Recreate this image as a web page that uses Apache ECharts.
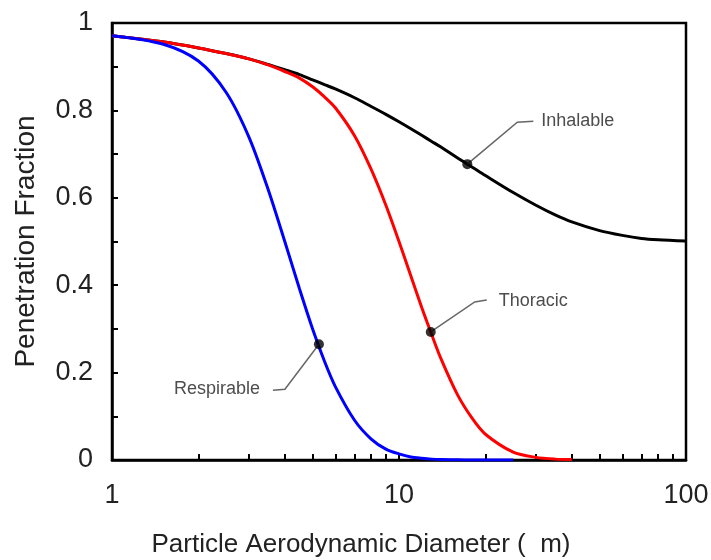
<!DOCTYPE html>
<html>
<head>
<meta charset="utf-8">
<script src="https://cdn.jsdelivr.net/npm/echarts@6/dist/echarts.min.js"></script>
<style>
  html, body { margin: 0; padding: 0; background: #fff; }
  #main { width: 711px; height: 560px; }
</style>
</head>
<body>
<div id="main"></div>
<script>
// particle aerodynamic diameter (um)
var diameters = [1, 1.5, 2, 2.5, 3, 3.5, 4, 4.5, 5, 5.5, 6, 7, 8, 9, 10, 11, 12, 13, 14, 16, 18, 20, 25, 30, 35, 40, 50, 60, 70, 80, 100];
// penetration fraction for each curve (thoracic stops at 40, respirable at 25)
var inhalable = [0.971, 0.957, 0.943, 0.930, 0.918, 0.905, 0.893, 0.882, 0.870, 0.859, 0.849, 0.829, 0.809, 0.791, 0.774, 0.758, 0.743, 0.729, 0.716, 0.691, 0.670, 0.651, 0.612, 0.583, 0.561, 0.545, 0.525, 0.514, 0.507, 0.504, 0.501];
var thoracic = [0.971, 0.957, 0.943, 0.930, 0.918, 0.904, 0.889, 0.874, 0.854, 0.831, 0.806, 0.742, 0.665, 0.583, 0.500, 0.421, 0.349, 0.287, 0.232, 0.149, 0.095, 0.059, 0.018, 0.006, 0.002, 0.001];
var respirable = [0.971, 0.952, 0.913, 0.841, 0.739, 0.619, 0.500, 0.392, 0.300, 0.226, 0.168, 0.091, 0.048, 0.025, 0.014, 0.007, 0.004, 0.002, 0.001, 0.0004, 0.0001, 0, 0];

// labelled points on each curve
var markerNames = ['Inhalable', 'Thoracic', 'Respirable'];
var markerX = [17.3, 12.9, 5.26];
var markerY = [0.677, 0.293, 0.265];

var xMinorTicks = [2, 3, 4, 5, 6, 7, 8, 9, 10, 20, 30, 40, 50, 60, 70, 80, 90];

function pairs(ys) {
  return ys.map(function (y, i) { return [diameters[i], y]; });
}

var myChart = echarts.init(document.getElementById('main'), null, { renderer: 'canvas' });

var option = {
  animation: false,
  backgroundColor: '#fff',
  grid: {
    left: 112, right: 25, top: 23, bottom: 100,
    show: true, borderColor: '#000', borderWidth: 2.5,
    outerBoundsMode: 'none'
  },
  xAxis: {
    type: 'log', logBase: 10, min: 1, max: 100,
    name: 'Particle Aerodynamic Diameter (  m)',
    nameLocation: 'middle', nameGap: 72,
    nameTextStyle: { fontSize: 26, color: '#222', fontFamily: 'Liberation Sans', padding: [0, 76, 0, 0] },
    axisLine: { lineStyle: { color: '#000', width: 2.5 } },
    axisTick: { inside: true, length: 6, customValues: xMinorTicks, lineStyle: { color: '#000', width: 2 } },
    axisLabel: { fontSize: 27, color: '#222', fontFamily: 'Liberation Sans', margin: 22 },
    splitLine: { show: false },
    minorTick: { show: false }
  },
  yAxis: {
    type: 'value', min: 0, max: 1, interval: 0.2,
    name: 'Penetration Fraction',
    nameLocation: 'middle', nameGap: 72,
    nameTextStyle: { fontSize: 28, color: '#222', fontFamily: 'Liberation Sans' },
    axisLine: { show: true, lineStyle: { color: '#000', width: 2.5 } },
    axisTick: { inside: true, length: 6, lineStyle: { color: '#000', width: 2 } },
    minorTick: { show: true, splitNumber: 2, length: 6, lineStyle: { color: '#000', width: 2 } },
    axisLabel: { fontSize: 27, color: '#222', fontFamily: 'Liberation Sans', margin: 19 },
    splitLine: { show: false }
  },
  series: [
    {
      name: 'Inhalable', type: 'line', data: pairs(inhalable),
      smooth: 0.3, showSymbol: false,
      lineStyle: { color: '#000', width: 3 }
    },
    {
      name: 'Thoracic', type: 'line', data: pairs(thoracic),
      smooth: 0.3, showSymbol: false,
      lineStyle: { color: '#f00', width: 3 }
    },
    {
      name: 'Respirable', type: 'line', data: pairs(respirable),
      smooth: 0.3, showSymbol: false,
      lineStyle: { color: '#00f', width: 3 }
    },
    {
      name: 'markers', type: 'scatter', z: 5,
      data: markerX.map(function (x, i) { return [x, markerY[i]]; }),
      symbolSize: 10, itemStyle: { color: '#000' }
    }
  ]
};

myChart.setOption(option);

// leader lines: bend offset, end offset, text anchor relative to the dot
var leaders = [
  { bend: [50, -42], end: [66, -43], text: [74, -43], align: 'left' },
  { bend: [44, -30], end: [56, -32], text: [68, -31], align: 'left' },
  { bend: [-34, 45], end: [-46, 46], text: [-59, 45], align: 'right' }
];

var graphics = [];
markerNames.forEach(function (name, i) {
  var p = myChart.convertToPixel({ gridIndex: 0 }, [markerX[i], markerY[i]]);
  var L = leaders[i];
  graphics.push({
    type: 'polyline', z: 4, silent: true,
    shape: { points: [p, [p[0] + L.bend[0], p[1] + L.bend[1]], [p[0] + L.end[0], p[1] + L.end[1]]] },
    style: { stroke: '#666', lineWidth: 1.5, fill: null }
  });
  graphics.push({
    type: 'text', z: 4, silent: true,
    x: p[0] + L.text[0], y: p[1] + L.text[1],
    style: { text: name, fill: '#4d4d4d', fontSize: 18, fontFamily: 'Liberation Sans', align: L.align, verticalAlign: 'middle' }
  });
});
myChart.setOption({ graphic: graphics });
</script>
</body>
</html>
